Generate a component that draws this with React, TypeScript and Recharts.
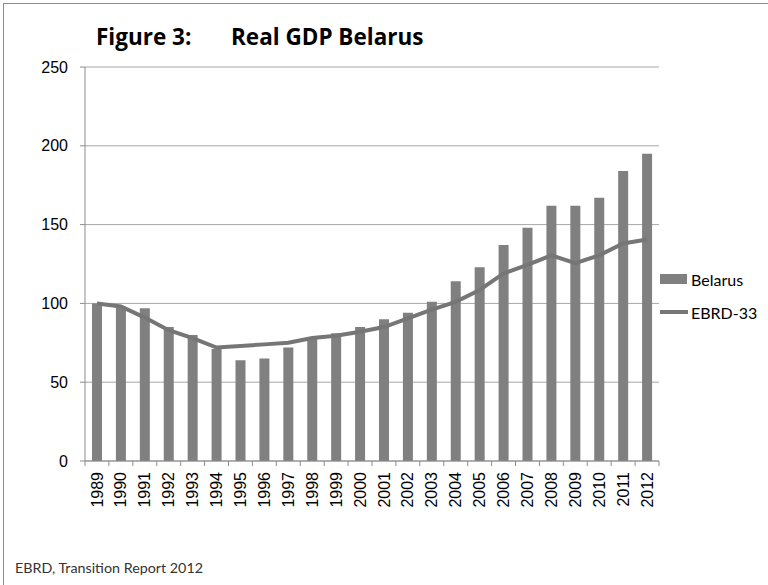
import { ComposedChart, Bar, Line, XAxis, YAxis, CartesianGrid } from 'recharts';

const years = [
  '1989', '1990', '1991', '1992', '1993', '1994', '1995', '1996', '1997', '1998', '1999', '2000',
  '2001', '2002', '2003', '2004', '2005', '2006', '2007', '2008', '2009', '2010', '2011', '2012',
];
const belarus = [100, 98, 97, 85, 80, 71, 64, 65, 72, 78, 81, 85, 90, 94, 101, 114, 123, 137, 148, 162, 162, 167, 184, 195];
const ebrd33 = [100, 98, 91, 83, 78, 72, 73, 74, 75, 78, 79.5, 82, 85, 90.5, 96, 101, 108.5, 119, 124.5, 130.5, 125.5, 130.5, 138, 140.5];
const yTicks = [0, 50, 100, 150, 200, 250];

const data = years.map((year, i) => ({ year, belarus: belarus[i], ebrd: ebrd33[i] }));

const GRAY = '#808080';
const LINE_GRAY = '#767676';
const AXIS = '#8c8c8c';
const PLOT_W = 574;
const BAND = PLOT_W / years.length;

const YearTick = (props: any) => {
  const { x, y, payload, index } = props;
  const top = y - 8;
  return (
    <g>
      <line x1={x - BAND / 2} x2={x - BAND / 2} y1={top} y2={top + 5} stroke={AXIS} />
      {index === years.length - 1 && (
        <line x1={x + BAND / 2} x2={x + BAND / 2} y1={top} y2={top + 5} stroke={AXIS} />
      )}
      <text
        x={x}
        y={top + 11}
        dy="0.35em"
        textAnchor="end"
        transform={`rotate(-90, ${x}, ${top + 11})`}
        fontFamily="'Liberation Sans', Arial, sans-serif"
        fontSize={16}
        fill="#000"
      >
        {payload.value}
      </text>
    </g>
  );
};

export default function App() {
  return (
    <div style={{ position: 'absolute', left: 0, top: 0, width: 768, height: 585, background: '#fff', overflow: 'hidden' }}>
      <div style={{ position: 'absolute', left: 3, top: 3, width: 800, height: 700, border: '1px solid #8c8c8c' }} />
      <div
        style={{
          position: 'absolute',
          left: 96,
          top: 23,
          fontFamily: "'Open Sans', sans-serif",
          fontWeight: 700,
          fontSize: 22.5,
          lineHeight: '28px',
          color: '#000',
          whiteSpace: 'pre',
        }}
      >
        <span>Figure 3:</span>
        <span style={{ position: 'absolute', left: 135 }}>Real GDP Belarus</span>
      </div>
      <ComposedChart
        width={768}
        height={585}
        data={data}
        margin={{ top: 67, right: 109, bottom: 0, left: 0 }}
        barSize={10}
        style={{ position: 'absolute', left: 0, top: 0 }}
      >
        <CartesianGrid vertical={false} stroke="#a6a6a6" />
        <XAxis
          dataKey="year"
          height={124}
          tickLine={false}
          axisLine={{ stroke: AXIS }}
          interval={0}
          tick={<YearTick />}
        />
        <YAxis
          width={85}
          domain={[0, 250]}
          ticks={yTicks}
          tickSize={5}
          tickMargin={12}
          tickLine={{ stroke: AXIS }}
          axisLine={{ stroke: AXIS }}
          tick={{ fill: '#000', fontSize: 16, fontFamily: "'Liberation Sans', Arial, sans-serif" }}
        />
        <Bar dataKey="belarus" name="Belarus" fill={GRAY} isAnimationActive={false} />
        <Line
          dataKey="ebrd"
          name="EBRD-33"
          type="linear"
          stroke={LINE_GRAY}
          strokeWidth={4}
          dot={false}
          isAnimationActive={false}
        />
      </ComposedChart>
      <div style={{ position: 'absolute', left: 660, top: 269, fontFamily: 'Lato, sans-serif', fontSize: 16, color: '#000' }}>
        <div style={{ display: 'flex', alignItems: 'center', height: 20 }}>
          <span style={{ width: 27, height: 10, background: GRAY, display: 'inline-block', marginRight: 4 }} />
          Belarus
        </div>
        <div style={{ display: 'flex', alignItems: 'center', height: 20, marginTop: 13 }}>
          <span style={{ width: 28, height: 4, background: LINE_GRAY, display: 'inline-block', marginRight: 3 }} />
          EBRD-33
        </div>
      </div>
      <div
        style={{
          position: 'absolute',
          left: 15,
          top: 559,
          fontFamily: 'Lato, sans-serif',
          fontSize: 14.3,
          color: '#333',
        }}
      >
        EBRD, Transition Report 2012
      </div>
    </div>
  );
}
